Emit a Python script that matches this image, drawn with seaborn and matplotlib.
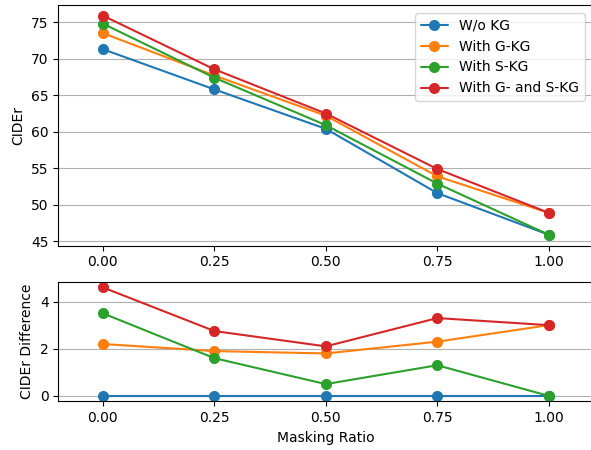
import matplotlib
matplotlib.use("Agg")
import matplotlib.pyplot as plt
import pandas as pd
import seaborn as sns

MASKING_RATIO = [0.00, 0.25, 0.50, 0.75, 1.00]
SERIES = ["W/o KG", "With G-KG", "With S-KG", "With G- and S-KG"]

CIDER_WO_KG = [71.3, 65.8, 60.4, 51.6, 45.9]
CIDER_G_KG = [73.5, 67.7, 62.2, 53.9, 48.9]
CIDER_S_KG = [74.8, 67.4, 60.9, 52.9, 45.9]
CIDER_GS_KG = [75.9, 68.55, 62.5, 54.9, 48.9]

DIFF_WO_KG = [0.0, 0.0, 0.0, 0.0, 0.0]
DIFF_G_KG = [2.2, 1.9, 1.8, 2.3, 3.0]
DIFF_S_KG = [3.5, 1.6, 0.5, 1.3, 0.0]
DIFF_GS_KG = [4.6, 2.75, 2.1, 3.3, 3.0]

PALETTE = ["#1f77b4", "#ff7f0e", "#2ca02c", "#d62728"]


def long_frame(columns: list[list[float]]) -> pd.DataFrame:
    rows = []
    for name, values in zip(SERIES, columns):
        for x, y in zip(MASKING_RATIO, values):
            rows.append({"ratio": x, "value": y, "model": name})
    return pd.DataFrame(rows)


top = long_frame([CIDER_WO_KG, CIDER_G_KG, CIDER_S_KG, CIDER_GS_KG])
bottom = long_frame([DIFF_WO_KG, DIFF_G_KG, DIFF_S_KG, DIFF_GS_KG])

sns.set_style("ticks")
plt.rcParams["font.family"] = ["DejaVu Sans"]
plt.rcParams.update({
    "axes.edgecolor": "black",
    "axes.labelcolor": "black",
    "text.color": "black",
    "xtick.color": "black",
    "ytick.color": "black",
})

fig, (ax1, ax2) = plt.subplots(
    2, 1, figsize=(5.91, 4.5), dpi=100, gridspec_kw={"height_ratios": [241, 119.3]}
)
# the original figure is cropped on the right, so the right spine sits just off-canvas
fig.subplots_adjust(left=0.0987, right=1.004, top=0.9896, bottom=0.1082, hspace=0.2015)

for ax, data in [(ax1, top), (ax2, bottom)]:
    sns.lineplot(
        data=data,
        x="ratio",
        y="value",
        hue="model",
        hue_order=SERIES,
        palette=PALETTE,
        marker="o",
        markersize=8,
        markeredgewidth=0,
        linewidth=1.5,
        ax=ax,
    )
    ax.grid(axis="y", color="#b0b0b0", linewidth=0.8)
    ax.set_axisbelow(True)
    ax.set_xticks(MASKING_RATIO)
    ax.set_xticklabels([f"{x:.2f}" for x in MASKING_RATIO])
    ax.set_xlim(-0.1, 1.1)
    for spine in ax.spines.values():
        spine.set_linewidth(0.8)

ax1.set_xlabel("")
ax1.set_ylabel("CIDEr")
ax1.set_yticks([45, 50, 55, 60, 65, 70, 75])
ax1.legend(loc="upper right", frameon=True, fontsize=10, borderaxespad=0.6)

ax2.set_xlabel("Masking Ratio")
ax2.set_ylabel("CIDEr Difference")
ax2.set_yticks([0, 2, 4])
ax2.get_legend().remove()

fig.savefig("out.png", dpi=100)
